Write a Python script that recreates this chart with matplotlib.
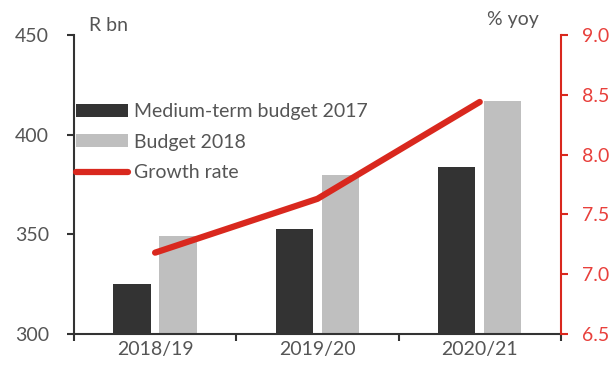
import matplotlib
matplotlib.use("Agg")
import matplotlib.pyplot as plt
import numpy as np

plt.rcParams['font.family'] = ['Lato', 'DejaVu Sans']

# budget figures (R bn) and growth (% yoy)
years = ['2018/19', '2019/20', '2020/21']
mtbps_2017 = [325, 352.5, 384]
budget_2018 = [349, 380, 417]
growth = [7.18, 7.63, 8.44]

dark = '#333333'
light = '#bfbfbf'
red = '#d9281e'
red_txt = '#e8403c'
txt = '#555555'
fs = 14

fig = plt.figure(figsize=(6.11, 3.68), dpi=100)
ax = fig.add_axes([0.121, 0.0924, 0.797, 0.8126])
ax2 = ax.twinx()

x = np.arange(len(years))
w = 0.23
b1 = ax.bar(x - 0.142, mtbps_2017, w, color=dark)
b2 = ax.bar(x + 0.142, budget_2018, w, color=light)
ln, = ax2.plot(x, growth, color=red, lw=4.5, solid_capstyle='round')

ax.set_xlim(-0.5, 2.5)
ax.set_ylim(300, 450)
ax.set_yticks([300, 350, 400, 450])
ax2.set_ylim(6.5, 9.0)
ax2.set_yticks(np.arange(6.5, 9.01, 0.5))
ax2.set_yticklabels(['%.1f' % v for v in np.arange(6.5, 9.01, 0.5)])

ax.set_xticks(x)
ax.set_xticklabels(years)
ax.set_xticks([-0.5, 0.5, 1.5, 2.5], minor=True)
ax.tick_params(axis='x', which='major', length=0, pad=5, labelsize=fs, labelcolor=txt)
ax.tick_params(axis='x', which='minor', length=5, width=1.5, color=dark)
ax.tick_params(axis='y', length=5, width=1.5, color=dark, labelsize=fs, labelcolor=txt, pad=13)
ax2.tick_params(axis='y', length=5, width=1.5, color=red, labelsize=fs, labelcolor=red_txt, pad=10)

for a in (ax, ax2):
    a.spines['top'].set_visible(False)
ax.spines['right'].set_visible(False)
ax.spines['left'].set_color(dark)
ax.spines['bottom'].set_color(dark)
ax.spines['left'].set_linewidth(1.5)
ax.spines['bottom'].set_linewidth(1.5)
ax2.spines['left'].set_visible(False)
ax2.spines['bottom'].set_visible(False)
ax2.spines['right'].set_color(red)
ax2.spines['right'].set_linewidth(1.5)

fig.text(0.145, 0.932, 'R bn', fontsize=fs, color=txt, va='center')
fig.text(0.797, 0.946, '% yoy', fontsize=fs, color=txt, va='center')

ax2.legend([b1, b2, ln], ['Medium-term budget 2017', 'Budget 2018', 'Growth rate'],
           loc='upper left', bbox_to_anchor=(0.124, 0.72), bbox_transform=fig.transFigure,
           frameon=False, fontsize=fs, handlelength=2.7, handleheight=0.65,
           handletextpad=0.3, labelspacing=0.7, borderpad=0, borderaxespad=0,
           labelcolor=txt)

fig.savefig('out.png', dpi=100)
